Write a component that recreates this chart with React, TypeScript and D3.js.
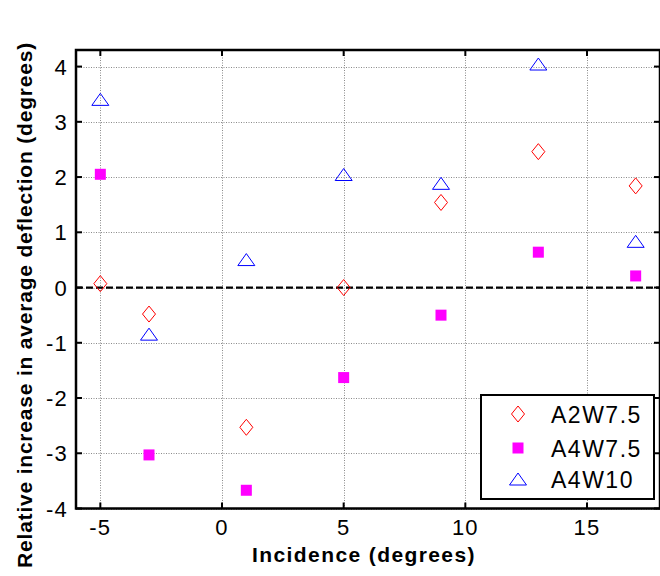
import { useEffect, useRef } from "react"
import * as d3 from "d3"

// incidence angles (degrees)
const incidence = [-5, -3, 1, 5, 9, 13, 17]
// relative increase in average deflection (degrees)
const a2w75 = [0.07, -0.48, -2.53, 0.0, 1.54, 2.46, 1.84]
const a4w75 = [2.05, -3.03, -3.67, -1.63, -0.5, 0.64, 0.21]
const a4w10 = [3.37, -0.88, 0.47, 2.01, 1.85, 4.01, 0.8]

const xTicks = [-5, 0, 5, 10, 15]
const yTicks = [-4, -3, -2, -1, 0, 1, 2, 3, 4]
const seriesNames = ["A2W7.5", "A4W7.5", "A4W10"]

const W = 660
const H = 576
const FONT = "'Liberation Sans', Arial, sans-serif"

export default function App() {
  const ref = useRef<SVGSVGElement>(null)

  useEffect(() => {
    const svg = d3.select(ref.current)
    svg.selectAll("*").remove()

    const x = d3.scaleLinear().domain([-6, 18]).range([76, 660])
    const y = d3.scaleLinear().domain([-4, 4.3]).range([508.5, 50])
    const [x0, x1] = x.range()
    const [yb, yt] = y.range()

    svg.append("rect").attr("width", W).attr("height", H).attr("fill", "#fff")

    // grid
    const grid = svg.append("g").attr("stroke", "#8a8a8a").attr("stroke-width", 1).attr("stroke-dasharray", "1,1.5")
    grid.selectAll(".gx").data(xTicks).enter().append("line")
      .attr("x1", (d) => Math.round(x(d)) + 0.5).attr("x2", (d) => Math.round(x(d)) + 0.5)
      .attr("y1", yt).attr("y2", yb)
    grid.selectAll(".gy").data(yTicks).enter().append("line")
      .attr("y1", (d) => Math.round(y(d)) + 0.5).attr("y2", (d) => Math.round(y(d)) + 0.5)
      .attr("x1", x0).attr("x2", x1)

    // zero line
    svg.append("line")
      .attr("x1", x0).attr("x2", x1)
      .attr("y1", y(0)).attr("y2", y(0))
      .attr("stroke", "#000").attr("stroke-width", 2.2).attr("stroke-dasharray", "7,3")

    // ticks (inward, all sides)
    const tk = svg.append("g").attr("stroke", "#000").attr("stroke-width", 2)
    xTicks.forEach((d) => {
      tk.append("line").attr("x1", x(d)).attr("x2", x(d)).attr("y1", yb).attr("y2", yb - 6)
      tk.append("line").attr("x1", x(d)).attr("x2", x(d)).attr("y1", yt).attr("y2", yt + 6)
    })
    yTicks.forEach((d) => {
      tk.append("line").attr("x1", x0).attr("x2", x0 + 6).attr("y1", y(d)).attr("y2", y(d))
      tk.append("line").attr("x1", x1).attr("x2", x1 - 6).attr("y1", y(d)).attr("y2", y(d))
    })

    // frame
    svg.append("rect")
      .attr("x", x0).attr("y", yt).attr("width", x1 - x0).attr("height", yb - yt)
      .attr("fill", "none").attr("stroke", "#000").attr("stroke-width", 2.5)

    // tick labels
    svg.append("g").selectAll("text").data(xTicks).enter().append("text")
      .attr("x", (d) => x(d)).attr("y", 535)
      .attr("text-anchor", "middle").attr("font-family", FONT).attr("font-size", 22)
      .attr("letter-spacing", 1.2)
      .text((d) => String(d))
    svg.append("g").selectAll("text").data(yTicks).enter().append("text")
      .attr("x", 68).attr("y", (d) => y(d) + 8)
      .attr("text-anchor", "end").attr("font-family", FONT).attr("font-size", 22)
      .attr("letter-spacing", 1.2)
      .text((d) => String(d))

    // axis labels
    svg.append("text")
      .attr("x", 364).attr("y", 562)
      .attr("text-anchor", "middle").attr("font-family", FONT).attr("font-size", 21)
      .attr("font-weight", "bold").attr("letter-spacing", 1.4)
      .text("Incidence (degrees)")
    svg.append("text")
      .attr("transform", "translate(32,305) rotate(-90)")
      .attr("text-anchor", "middle").attr("font-family", FONT).attr("font-size", 21)
      .attr("font-weight", "bold").attr("letter-spacing", 0.8)
      .text("Relative increase in average deflection (degrees)")

    // markers
    const diamond = (cx: number, cy: number) =>
      `M${cx},${cy - 8}L${cx + 6.5},${cy}L${cx},${cy + 8}L${cx - 6.5},${cy}Z`
    const triangle = (cx: number, cy: number) =>
      `M${cx},${cy - 8}L${cx + 8.5},${cy + 4}L${cx - 8.5},${cy + 4}Z`

    svg.append("g").selectAll("path").data(incidence).enter().append("path")
      .attr("d", (d, i) => diamond(x(d), y(a2w75[i])))
      .attr("fill", "none").attr("stroke", "#ff0000").attr("stroke-width", 1)
    svg.append("g").selectAll("rect").data(incidence).enter().append("rect")
      .attr("x", (d) => x(d) - 5.5).attr("y", (d, i) => y(a4w75[i]) - 5.5)
      .attr("width", 11).attr("height", 11).attr("fill", "#ff00ff")
    svg.append("g").selectAll("path").data(incidence).enter().append("path")
      .attr("d", (d, i) => triangle(x(d), y(a4w10[i])))
      .attr("fill", "none").attr("stroke", "#0000ff").attr("stroke-width", 1)

    // legend
    const lg = svg.append("g")
    lg.append("rect").attr("x", 481).attr("y", 395).attr("width", 173).attr("height", 104)
      .attr("fill", "#fff").attr("stroke", "#000").attr("stroke-width", 2)
    const ly = [414, 448, 479]
    lg.append("path").attr("d", diamond(518, ly[0])).attr("fill", "none").attr("stroke", "#ff0000")
    lg.append("rect").attr("x", 512.5).attr("y", ly[1] - 5.5).attr("width", 11).attr("height", 11).attr("fill", "#ff00ff")
    lg.append("path").attr("d", triangle(518, ly[2] + 2)).attr("fill", "none").attr("stroke", "#0000ff")
    seriesNames.forEach((n, i) => {
      lg.append("text").attr("x", 551).attr("y", ly[i] + 8.5)
        .attr("font-family", FONT).attr("font-size", 23).attr("letter-spacing", 1.5).text(n)
    })
  }, [])

  return (
    <svg ref={ref} width={W} height={H} style={{ position: "absolute", left: 0, top: 0, display: "block" }} />
  )
}
